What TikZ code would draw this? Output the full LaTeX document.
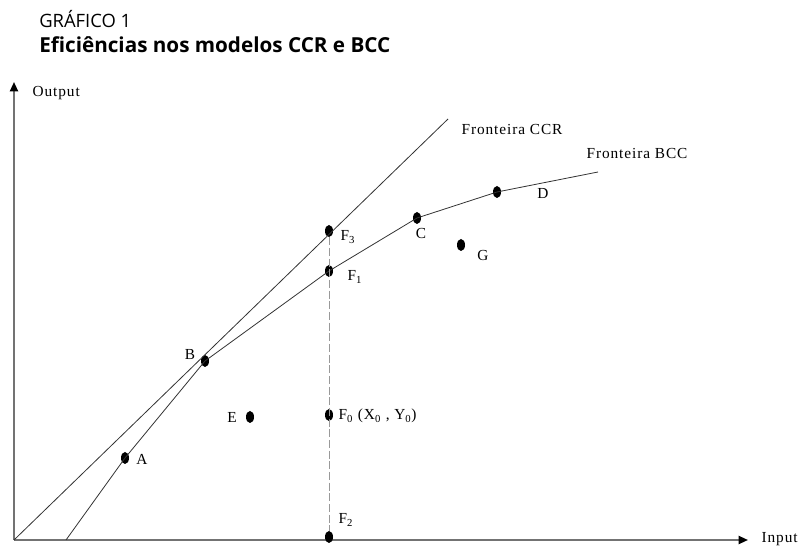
\documentclass[tikz,border=0pt]{standalone}
\usepackage{fontspec}
\setmainfont{Liberation Serif}[LetterSpace=6]
\newfontfamily\headfont{Open Sans}
\usetikzlibrary{calc, shapes, arrows, arrows.meta}

\begin{document}
\begin{tikzpicture}[x=0.75pt,y=-0.75pt]
\tikzstyle{dot}=[ellipse,fill=black,minimum width=6pt,minimum height=9pt,inner sep=0pt]
\tikzstyle{lbl}=[font=\fontsize{11.5}{13}\selectfont,inner sep=1pt]
\tikzstyle{axis}=[draw=black!55,line width=1.5pt,-{Triangle[black,length=7pt,width=6pt]}]
\tikzstyle{frontier}=[draw=black!80,line width=0.6pt]
\useasboundingbox (0,0) rectangle (800,548);
% title
\node[anchor=base west,inner sep=0pt,font=\headfont\fontsize{13.8}{16}\selectfont] (cap) at (39,28) {GRÁFICO 1};
\node[anchor=base west,inner sep=0pt,font=\headfont\bfseries\fontsize{15.5}{19}\selectfont] (title) at (39,53) {Eficiências nos modelos CCR e BCC};
% axes
\coordinate (O) at (14,540);
\coordinate (Ytop) at (14,82);
\coordinate (Xend) at (748,540);
\draw[axis] (O) -- (Ytop);
\draw[axis] (O) -- (Xend);
\node[lbl,anchor=west] (out) at (31,93) {Output};
\node[lbl,anchor=west] (in) at (760,539) {Input};
% points
\node[dot] (A) at (125,458) {};
\node[dot] (B) at (205,361) {};
\node[dot] (F1) at (329,271) {};
\node[dot] (C) at (417,218) {};
\node[dot] (D) at (497,192) {};
\node[dot] (G) at (461,245) {};
\node[dot] (E) at (250,417) {};
\node[dot] (F0) at (329,415) {};
\node[dot] (F2) at (329,537) {};
\node[dot] (F3) at (329,231) {};
% frontiers
\coordinate (ccrEnd) at (448,119);
\coordinate (bccStart) at (66,540);
\coordinate (bccEnd) at (598,172);
\draw[frontier] (O) -- (ccrEnd);
\draw[frontier] (bccStart) -- (A.center) -- (B.center) -- (F1.center) -- (C.center) -- (D.center) -- (bccEnd);
\draw[draw=black!40,dash pattern=on 6pt off 2pt,line width=0.6pt] (F3) -- (F2);
\node[lbl,anchor=west] (lccr) at (460,130) {Fronteira CCR};
\node[lbl,anchor=west] (lbcc) at (585,154) {Fronteira BCC};
% point labels
\node[lbl] (lA) at (142,459) {A};
\node[lbl] (lB) at (190,355) {B};
\node[lbl] (lC) at (421,234) {C};
\node[lbl] (lD) at (543,193) {D};
\node[lbl] (lE) at (232,417) {E};
\node[lbl] (lG) at (483,256) {G};
\node[lbl,anchor=west] (lF0) at (337,416) {F\textsubscript{0} (X\textsubscript{0} , Y\textsubscript{0})};
\node[lbl,anchor=west] (lF1) at (346,277) {F\textsubscript{1}};
\node[lbl,anchor=west] (lF2) at (337,520) {F\textsubscript{2}};
\node[lbl,anchor=west] (lF3) at (339,237) {F\textsubscript{3}};
\end{tikzpicture}
\end{document}
